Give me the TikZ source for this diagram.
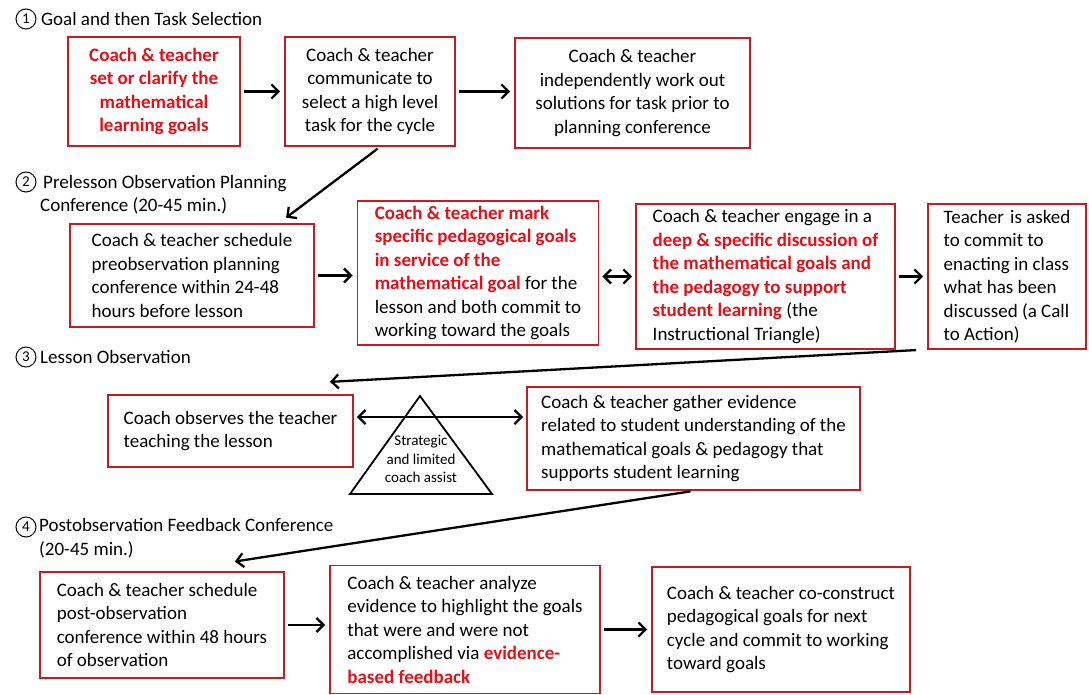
\documentclass[tikz,border=0pt]{standalone}
\usepackage{fontspec}
\setmainfont{Carlito}
\usepackage{tikz}
\usetikzlibrary{arrows.meta}

\definecolor{boxred}{RGB}{192,30,36}
\definecolor{txtred}{RGB}{228,16,24}
\newcommand{\redb}[1]{\textcolor{txtred}{\textbf{#1}}}

\begin{document}
\begin{tikzpicture}[
            x=1pt, y=-1pt,
            every node/.style={font=\fontsize{19}{23.5}\selectfont}, % Calibri-like text
            box/.style={draw=boxred, line width=1.8pt, inner sep=0pt, align=left}, % Red framed step
            cbox/.style={box, align=center}, % Centred step
            num/.style={circle, draw, line width=1pt, minimum size=20pt, inner sep=0pt, font=\fontsize{15}{15}\selectfont}, % Phase number
            head/.style={anchor=west, inner sep=0pt, align=left}, % Phase title
            arr/.style={-{Straight Barb[length=7pt,width=14pt]}, line width=2.3pt, shorten <=3pt, shorten >=4pt},
            darr/.style={{Straight Barb[length=7pt,width=14pt]}-{Straight Barb[length=7pt,width=14pt]}, line width=2.3pt, shorten <=3pt, shorten >=3pt}
            ]
        \useasboundingbox (0,0) rectangle (1089,695);

        % Phase 1: goal and task
        \node[num] (n1) at (26,19) {1};
        \node[head] (h1) at (41,19) {Goal and then Task Selection};
        \node[cbox, minimum width=172pt, minimum height=109pt] (a1) at (154,91.5)
            {\redb{Coach \& teacher}\\ \redb{set or clarify the}\\ \redb{mathematical}\\ \redb{learning goals}};
        \node[cbox, minimum width=170pt, minimum height=109pt] (a2) at (370,91.5)
            {Coach \& teacher\\ communicate to\\ select a high level\\ task for the cycle};
        \node[cbox, minimum width=235pt, minimum height=110pt] (a3) at (632.5,93)
            {Coach \& teacher\\ independently work out\\ solutions for task prior to\\ planning conference};

        % Phase 2: planning conference
        \node[num] (n2) at (26,182) {2};
        \node[head] (h2) at (40,194.5) {\hspace*{3pt}Prelesson Observation Planning\\Conference (20-45 min.)};
        \node[box, minimum width=244pt, minimum height=103pt] (b1) at (192,275.5)
            {Coach \& teacher schedule\\ preobservation planning\\ conference within 24-48\\ hours before lesson};
        \node[box, minimum width=241pt, minimum height=144pt] (b2) at (478,273)
            {\redb{Coach \& teacher mark}\\ \redb{specific pedagogical goals}\\ \redb{in service of the}\\ \redb{mathematical goal} for the\\ lesson and both commit to\\ working toward the goals};
        \node[box, minimum width=259pt, minimum height=145pt] (b3) at (765.5,276.5)
            {Coach \& teacher engage in a\\ \redb{deep \& specific discussion of}\\ \redb{the mathematical goals and}\\ \redb{the pedagogy to support}\\ \redb{student learning} (the\\ Instructional Triangle)};
        \node[box, minimum width=158pt, minimum height=145pt] (b4) at (1007,276.5)
            {Teacher \hspace{2pt}is asked\\ to commit to\\ enacting in class\\ what has been\\ discussed (a Call\\ to Action)};

        % Phase 3: observation
        \node[num] (n3) at (26,357) {3};
        \node[head] (h3) at (40,357) {Lesson Observation};
        \node[box, minimum width=245pt, minimum height=72pt] (c1) at (230.5,431)
            {Coach observes the teacher\\ teaching the lesson};
        \node[box, minimum width=333pt, minimum height=103pt] (c2) at (693.5,438.5)
            {Coach \& teacher gather evidence\\ related to student understanding of the\\ mathematical goals \& pedagogy that\\ supports student learning};
        \draw[line width=1.8pt] (420,396) coordinate (tri top) -- (492,494) coordinate (tri right)
            -- (350,494) coordinate (tri left) -- cycle;
        \node[align=center, inner sep=0pt, font=\fontsize{15}{18.5}\selectfont] (assist) at (421,459)
            {Strategic\\ and limited\\ coach assist};

        % Phase 4: feedback conference
        \node[num] (n4) at (26,527) {4};
        \node[head] (h4) at (39,538) {Postobservation Feedback Conference\\(20-45 min.)};
        \node[box, minimum width=244pt, minimum height=106pt] (d1) at (162,625)
            {Coach \& teacher schedule\\ post-observation\\ conference within 48 hours\\ of observation};
        \node[box, minimum width=270pt, minimum height=128pt] (d2) at (465,629.5)
            {Coach \& teacher analyze\\ evidence to highlight the goals\\ that were and were not\\ accomplished via \redb{evidence-}\\ \redb{based feedback}};
        \node[box, minimum width=258pt, minimum height=125pt] (d3) at (781,629.5)
            {Coach \& teacher co-construct\\ pedagogical goals for next\\ cycle and commit to working\\ toward goals};

        % Connectors
        \draw[arr] (a1) -- (a2);
        \draw[arr] (a2.east) -- (a2.east -| a3.west);
        \draw[arr] ([xshift=10pt]a2.south) -- ([xshift=-32pt,yshift=3pt]b1.north east);
        \draw[arr] (b1.east) -- (b1.east -| b2.west);
        \draw[darr] (b2.east |- b3.west) -- (b3.west);
        \draw[arr] (b3.east) -- (b3.east -| b4.west);
        \draw[arr] ([xshift=-8pt]b4.south west) -- ([xshift=-28pt,yshift=12pt]c1.north east);
        \draw[darr] ([yshift=14pt]c1.east) -- ([yshift=14pt]c1.east -| c2.west);
        \draw[arr] (c2.south) -- ([xshift=-54pt,yshift=9pt]d1.north east);
        \draw[arr] (d1.east) -- (d1.east -| d2.west);
        \draw[arr] (d2.east) -- (d2.east -| d3.west);

\end{tikzpicture}
\end{document}
